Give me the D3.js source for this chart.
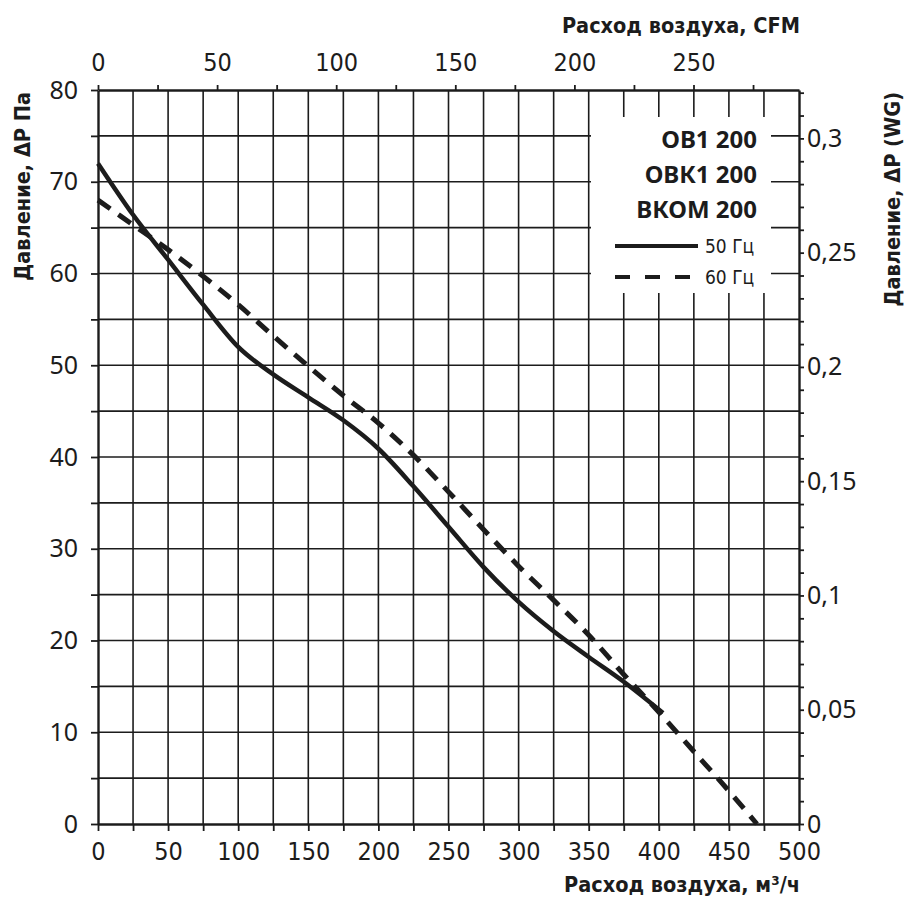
<!DOCTYPE html>
<html>
<head>
<meta charset="utf-8">
<script src="https://cdn.jsdelivr.net/npm/d3@7"></script>
<style>
  body { margin: 0; background: #fff; }
  svg { display: block; }
  .cond { font-family: "Liberation Sans Narrow", "DejaVu Sans Condensed", sans-serif; }
  .reg { font-family: "Noto Sans", "Open Sans", sans-serif; }
</style>
</head>
<body>
<div id="chart"></div>
<script>
// flow ticks, m3/h and CFM
const flowTicks = [0, 50, 100, 150, 200, 250, 300, 350, 400, 450, 500];
const cfmTicks = [0, 50, 100, 150, 200, 250];
const paTicks = [0, 10, 20, 30, 40, 50, 60, 70, 80];
const wgTicks = [0, 0.05, 0.1, 0.15, 0.2, 0.25, 0.3];

// 50 Hz curve (solid)
const hz50Flow = [0, 25, 50, 75, 100, 125, 150, 175, 200, 225, 250, 275, 300, 325, 350, 375, 403];
const hz50Pa = [72, 66.4, 61.5, 56.6, 52.0, 49.0, 46.5, 44.0, 40.9, 36.8, 32.4, 28.0, 24.2, 21.0, 18.2, 15.5, 12.1];

// 60 Hz curve (dashed)
const hz60Flow = [0, 25, 50, 75, 100, 125, 150, 175, 200, 225, 250, 275, 300, 325, 350, 375, 400, 425, 450, 470];
const hz60Pa = [68, 65.3, 62.6, 59.7, 56.6, 53.2, 49.9, 46.7, 43.7, 40.2, 36.2, 32.1, 28.1, 24.4, 20.6, 16.3, 12.2, 7.9, 3.6, 0];

const models = ['ОВ1 200', 'ОВК1 200', 'ВКОМ 200'];
const legendItems = ['50 Гц', '60 Гц'];

const W = 907, H = 897;
const margin = {top: 90, right: 108, bottom: 73, left: 98};
const width = W - margin.left - margin.right;
const height = H - margin.top - margin.bottom;

const CFM = 1.699; // m3/h per CFM
const PA_WG = 249.09; // Pa per inch WG

const svg = d3.select('#chart').append('svg')
  .attr('width', W)
  .attr('height', H);

const g = svg.append('g')
  .attr('transform', 'translate(' + margin.left + ',' + margin.top + ')');

const x = d3.scaleLinear().domain([0, 500]).range([0, width]);
const y = d3.scaleLinear().domain([0, 80]).range([height, 0]);
const xCfm = d3.scaleLinear().domain([0, 500 / CFM]).range([0, width]);
const yWg = d3.scaleLinear().domain([0, 80 / PA_WG]).range([height, 0]);

const ink = '#1c1c1c';

// grid
g.append('g')
  .selectAll('line')
  .data(d3.range(25, 500, 25))
  .join('line')
    .attr('x1', d => x(d)).attr('x2', d => x(d))
    .attr('y1', 0).attr('y2', height)
    .attr('stroke', ink).attr('stroke-width', 1.6);

g.append('g')
  .selectAll('line')
  .data(d3.range(5, 80, 5))
  .join('line')
    .attr('x1', 0).attr('x2', width)
    .attr('y1', d => y(d)).attr('y2', d => y(d))
    .attr('stroke', ink).attr('stroke-width', 1.6);

// legend box blanks the grid
const lg = g.append('g');
lg.append('rect')
  .attr('x', 493).attr('y', 27)
  .attr('width', 180).attr('height', 176)
  .attr('fill', '#fff');

// axes
function styleAxis(sel) {
  sel.select('.domain').attr('stroke', ink).attr('stroke-width', 2.4);
  sel.selectAll('.tick line').attr('stroke', ink).attr('stroke-width', 1.8);
}

const xAxis = g.append('g')
  .attr('transform', 'translate(0,' + height + ')')
  .call(d3.axisBottom(x).tickValues(d3.range(0, 501, 25)).tickSize(7).tickSizeOuter(0)
    .tickFormat(d => flowTicks.includes(d) ? d : ''));
styleAxis(xAxis);
xAxis.selectAll('text').attr('class', 'cond').attr('font-size', 25).attr('fill', ink).attr('dy', '1.05em');

const xTop = g.append('g')
  .call(d3.axisTop(xCfm).tickValues(d3.range(0, 276, 25)).tickSize(5).tickSizeOuter(0)
    .tickFormat(d => cfmTicks.includes(d) ? d : ''));
styleAxis(xTop);
xTop.selectAll('text').attr('class', 'cond').attr('font-size', 25).attr('fill', ink).attr('dy', '-0.45em');

const yAxis = g.append('g')
  .call(d3.axisLeft(y).tickValues(d3.range(0, 81, 5)).tickSize(7).tickSizeOuter(0)
    .tickFormat(d => paTicks.includes(d) ? d : ''));
styleAxis(yAxis);
yAxis.selectAll('text').attr('class', 'reg').attr('font-size', 25).attr('fill', ink).attr('dx', '-0.4em');

const yRight = g.append('g')
  .attr('transform', 'translate(' + width + ',0)')
  .call(d3.axisRight(yWg).tickValues(d3.range(0, 33).map(i => i / 100)).tickSize(5).tickSizeOuter(0)
    .tickFormat(d => {
      const hit = wgTicks.find(t => Math.abs(t - d) < 1e-9);
      return hit !== undefined ? String(hit).replace('.', ',') : '';
    }));
styleAxis(yRight);
yRight.selectAll('text').attr('class', 'reg').attr('font-size', 25).attr('fill', ink).attr('dx', '0');

// curves
const line = d3.line()
  .x(d => x(d[0]))
  .y(d => y(d[1]))
  .curve(d3.curveMonotoneX);

g.append('path')
  .datum(hz60Flow.map((f, i) => [f, hz60Pa[i]]))
  .attr('fill', 'none')
  .attr('stroke', ink)
  .attr('stroke-width', 5)
  .attr('stroke-dasharray', '15,10')
  .attr('d', line);

g.append('path')
  .datum(hz50Flow.map((f, i) => [f, hz50Pa[i]]))
  .attr('fill', 'none')
  .attr('stroke', ink)
  .attr('stroke-width', 4.5)
  .attr('d', line);

// legend text
lg.selectAll('text.model')
  .data(models)
  .join('text')
    .attr('class', 'model reg')
    .attr('x', 659).attr('y', (d, i) => 58 + i * 35)
    .attr('text-anchor', 'end')
    .attr('font-size', 24).attr('font-weight', 'bold')
    .attr('fill', ink)
    .text(d => d);

lg.selectAll('line.key')
  .data(legendItems)
  .join('line')
    .attr('class', 'key')
    .attr('x1', 517).attr('x2', 600)
    .attr('y1', (d, i) => 156 + i * 31).attr('y2', (d, i) => 156 + i * 31)
    .attr('stroke', ink).attr('stroke-width', 4)
    .attr('stroke-dasharray', (d, i) => i ? '15,15' : null);

lg.selectAll('text.keylab')
  .data(legendItems)
  .join('text')
    .attr('class', 'keylab cond')
    .attr('x', 607).attr('y', (d, i) => 163 + i * 31)
    .attr('font-size', 19)
    .attr('fill', ink)
    .text(d => d);

// axis titles
const titleSize = 21.5;
svg.append('text')
  .attr('class', 'cond')
  .attr('x', 800).attr('y', 33)
  .attr('text-anchor', 'end')
  .attr('font-size', titleSize).attr('font-weight', 'bold').attr('fill', ink)
  .text('Расход воздуха, CFM');

svg.append('text')
  .attr('class', 'cond')
  .attr('x', 800).attr('y', 892)
  .attr('text-anchor', 'end')
  .attr('font-size', titleSize).attr('font-weight', 'bold').attr('fill', ink)
  .text('Расход воздуха, м³/ч');

svg.append('text')
  .attr('class', 'cond')
  .attr('transform', 'translate(30,92) rotate(-90)')
  .attr('text-anchor', 'end')
  .attr('font-size', titleSize).attr('font-weight', 'bold').attr('fill', ink)
  .text('Давление, ΔP Па');

svg.append('text')
  .attr('class', 'cond')
  .attr('transform', 'translate(900,92) rotate(-90)')
  .attr('text-anchor', 'end')
  .attr('font-size', titleSize).attr('font-weight', 'bold').attr('fill', ink)
  .text('Давление, ΔP (WG)');
</script>
</body>
</html>
